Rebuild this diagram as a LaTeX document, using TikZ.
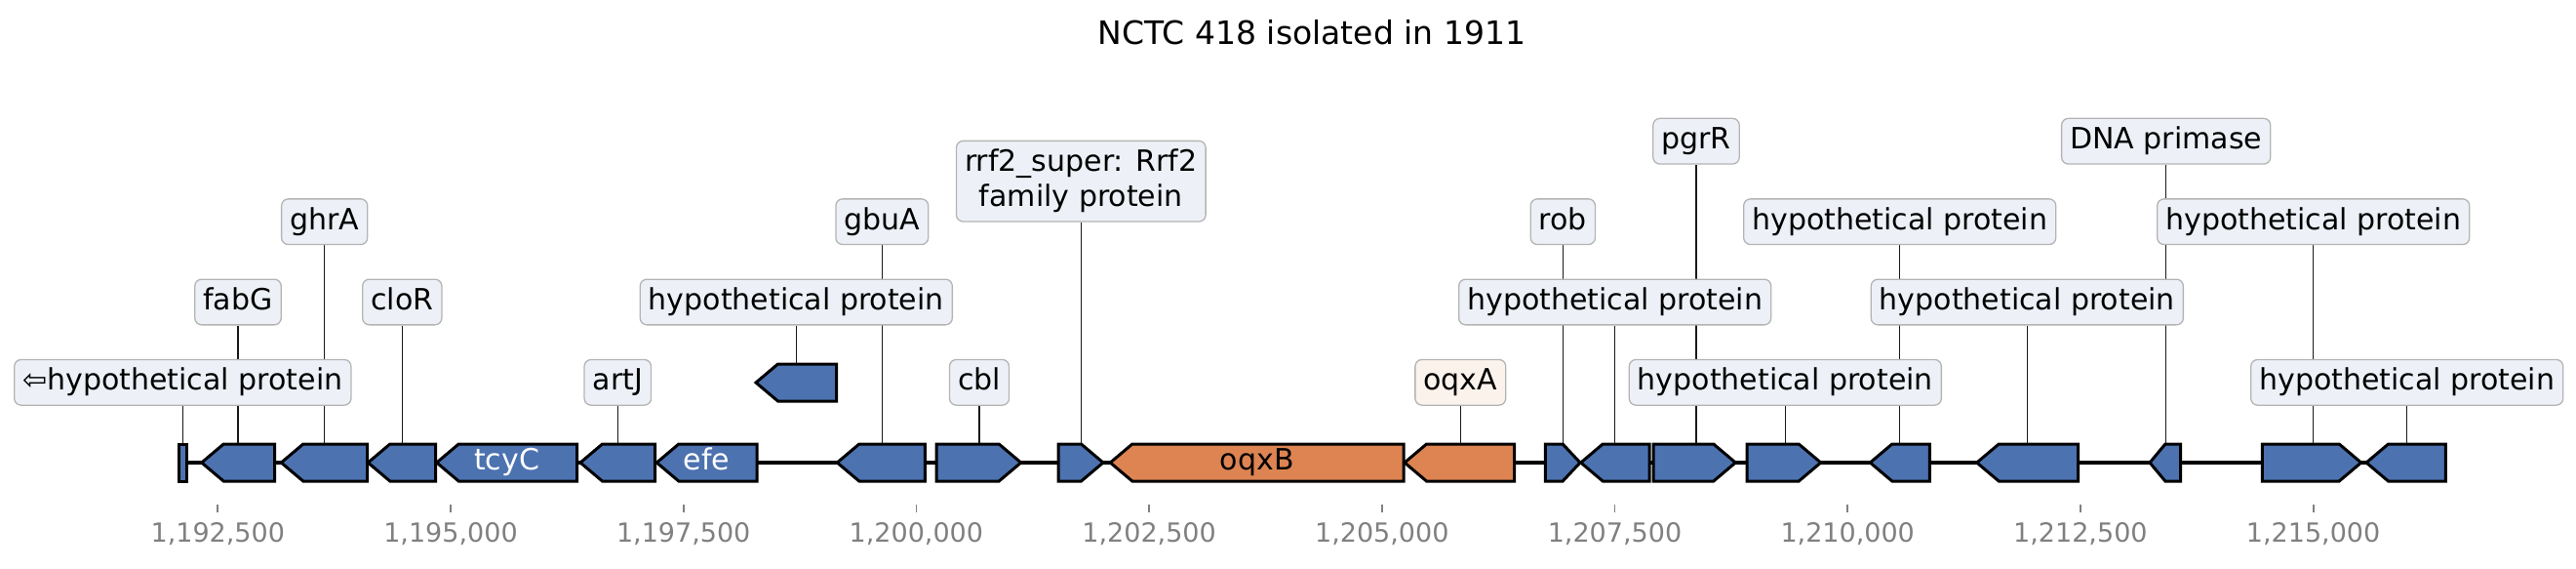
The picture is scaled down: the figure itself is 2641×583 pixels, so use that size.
\documentclass[tikz,border=0pt]{standalone}
\usepackage{fontspec}
\setmainfont{DejaVu Sans}
\usetikzlibrary{positioning, backgrounds}

\definecolor{geneblue}{HTML}{4C72B0}
\definecolor{geneorange}{HTML}{DD8452}
\definecolor{boxblue}{HTML}{EDF1F7}
\definecolor{boxorange}{HTML}{FCF2EC}
\definecolor{boxedge}{HTML}{B4B4B4}
\definecolor{tickgrey}{HTML}{808080}

\tikzset{
  lbl/.style={draw=boxedge, fill=boxblue, line width=1.3pt, rounded corners=7pt,
    inner xsep=8.6pt, inner ysep=8.2pt, text height=23pt, text depth=7.3pt,
    font=\fontsize{30}{36}\selectfont},
  lblorange/.style={lbl, fill=boxorange},
  leader/.style={line width=1.3pt, black!90},
  genebody/.style={draw=black, line width=3pt, line join=miter},
  genetext/.style={font=\fontsize{30}{36}\selectfont, text height=23pt, text depth=7.3pt, inner sep=0pt},
  tickmark/.style={line width=1.8pt, tickgrey},
  ticklbl/.style={text=tickgrey, font=\fontsize{27}{32}\selectfont, anchor=base},
}

% gene arrows: [y centre]{left}{right}{fill}
\newcommand{\geneleft}[4][474]{%
  \pgfmathsetmacro\hl{min(22.5,(#3-#2)/2)}%
  \filldraw[genebody, fill=#4] (#2,#1) -- ({#2+\hl},#1-19) -- (#3,#1-19)
    -- (#3,#1+19) -- ({#2+\hl},#1+19) -- cycle;}
\newcommand{\generight}[4][474]{%
  \pgfmathsetmacro\hl{min(22.5,(#3-#2)/2)}%
  \filldraw[genebody, fill=#4] (#2,#1-19) -- ({#3-\hl},#1-19) -- (#3,#1)
    -- ({#3-\hl},#1+19) -- (#2,#1+19) -- cycle;}

\begin{document}
\begin{tikzpicture}[x=1pt, y=-1pt]
\useasboundingbox (0,0) rectangle (2641,583);

\node[anchor=base, font=\fontsize{33}{40}\selectfont] (title) at (1345,45.7) {NCTC 418 isolated in 1911};

% backbone
\coordinate (bbl) at (184,474);
\coordinate (bbr) at (2507,474);
\draw[line width=4pt] (bbl) -- (bbr);

% genes
\filldraw[genebody, fill=geneblue] (183.3,455) rectangle (191.7,493);
\foreach \a/\b in {206.7/281.7, 288.3/376.7, 377.3/446.7, 447.7/591.7, 595/671.7,
  673.3/776, 858.3/948.3, 1620.7/1691, 1917.3/1978.3, 2026.7/2130.7,
  2204/2235.7, 2426/2507.3}
  \geneleft{\a}{\b}{geneblue};
\foreach \a/\b in {960/1046.7, 1085/1131, 1584.3/1620, 1695/1779.3,
  1791/1866.7, 2319.3/2420.7}
  \generight{\a}{\b}{geneblue};
\geneleft{1138.3}{1439}{geneorange}
\geneleft{1440}{1552.7}{geneorange}
\geneleft[392]{775}{857.6}{geneblue}

\node[genetext, text=white] (ntcyC) at (519.7,474) {tcyC};
\node[genetext, text=white] (nefe) at (724.7,474) {efe};
\node[genetext] (noqxB) at (1288.7,474) {oqxB};

% axis
\foreach \tx/\tl [count=\i] in {223.3/{1,192,500}, 462.0/{1,195,000}, 700.7/{1,197,500},
  939.4/{1,200,000}, 1178.1/{1,202,500}, 1416.8/{1,205,000}, 1655.5/{1,207,500},
  1894.2/{1,210,000}, 2132.9/{1,212,500}, 2371.6/{1,215,000}} {
  \draw[tickmark] (\tx,517) -- (\tx,525);
  \node[ticklbl] (tick\i) at (\tx,555) {\tl};
}

% labels
\node[lbl] (lhypa) at (187.3,391.8) {⇦hypothetical protein};
\node[lbl] (lfabG) at (244,309.5) {fabG};
\node[lbl] (lghrA) at (332.7,227.2) {ghrA};
\node[lbl] (lcloR) at (412.3,309.5) {cloR};
\node[lbl] (lartJ) at (633.3,391.8) {artJ};
\node[lbl] (lhypb) at (816.3,309.5) {hypothetical protein};
\node[lbl] (lgbuA) at (904.3,227.2) {gbuA};
\node[lbl] (lcbl) at (1004,391.8) {cbl};
\node[lbl, align=center, text height=59pt] (lrrf) at (1108.3,185.7) {rrf2\_super: Rrf2\\family protein};
\node[lblorange] (loqxA) at (1497.3,391.8) {oqxA};
\node[lbl] (lrob) at (1602.3,227.2) {rob};
\node[lbl] (lhypc) at (1655.7,309.5) {hypothetical protein};
\node[lbl] (lpgrR) at (1739,144.7) {pgrR};
\node[lbl] (lhypd) at (1830.3,391.8) {hypothetical protein};
\node[lbl] (lhype) at (1947.7,227.2) {hypothetical protein};
\node[lbl] (lhypf) at (2078.3,309.5) {hypothetical protein};
\node[lbl] (lprim) at (2220.7,144.7) {DNA primase};
\node[lbl] (lhypg) at (2371.7,227.2) {hypothetical protein};
\node[lbl] (lhyph) at (2467.7,391.8) {hypothetical protein};

% gene tops
\coordinate (ghypa) at (187.3,455);
\coordinate (gfabG) at (244,455);
\coordinate (gghrA) at (332.7,455);
\coordinate (gcloR) at (412.3,455);
\coordinate (gartJ) at (633.3,455);
\coordinate (ghypb) at (816.3,373);
\coordinate (ggbuA) at (904.3,455);
\coordinate (gcbl) at (1004,455);
\coordinate (grrf) at (1108.3,455);
\coordinate (goqxA) at (1497.3,455);
\coordinate (grob) at (1602.3,455);
\coordinate (ghypc) at (1655.7,455);
\coordinate (gpgrR) at (1739,455);
\coordinate (ghypd) at (1830.3,455);
\coordinate (ghype) at (1947.7,455);
\coordinate (ghypf) at (2078.3,455);
\coordinate (gprim) at (2220.7,455);
\coordinate (ghypg) at (2371.7,455);
\coordinate (ghyph) at (2467.7,455);

\begin{scope}[on background layer]
\foreach \n in {hypa,fabG,ghrA,cloR,artJ,hypb,gbuA,cbl,rrf,oqxA,rob,hypc,pgrR,hypd,hype,hypf,prim,hypg,hyph}
  \draw[leader] (l\n) -- (g\n);
\end{scope}
\end{tikzpicture}
\end{document}
